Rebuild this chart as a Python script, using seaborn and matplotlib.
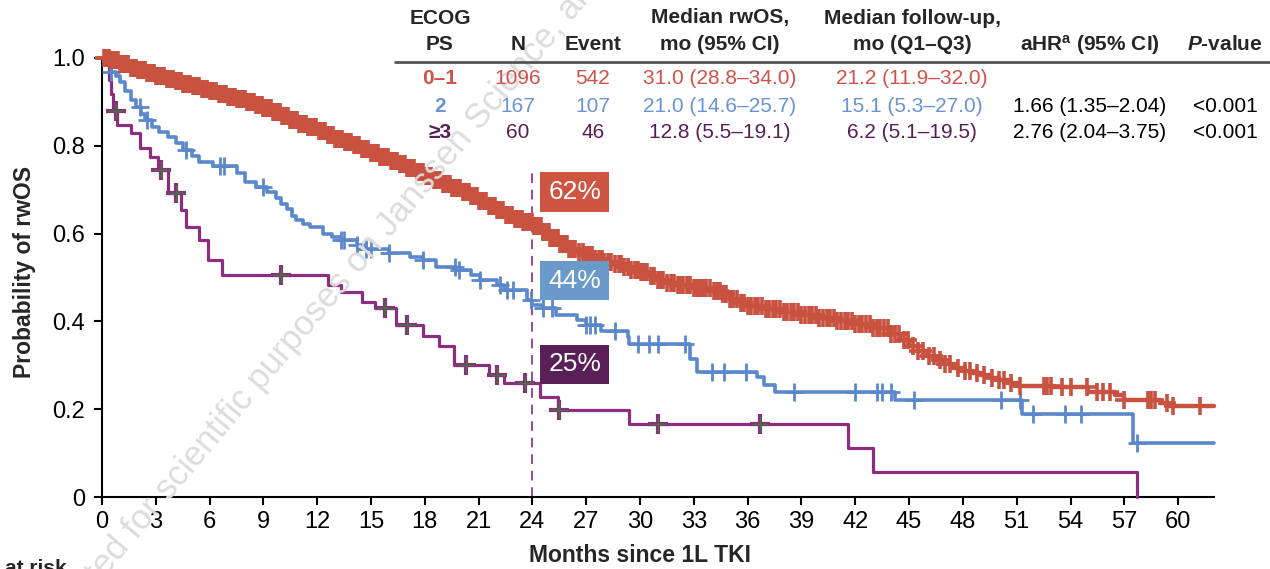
import numpy as np
import matplotlib
matplotlib.use("Agg")
import matplotlib.pyplot as plt
import seaborn as sns

# ---- data ----
# KM step curves: time of each step (months) and survival after it
red_t = [0, 0.5, 1.0, 1.5, 2.0, 2.5, 3.0, 3.5, 4.0, 4.5, 5.0, 5.5, 6.0, 6.5, 7.0, 7.5, 8.0, 8.5,
         9.0, 9.5, 10.0, 10.5, 11.0, 11.5, 12.0, 12.5, 13.0, 13.5, 14.0, 14.5, 15.0, 15.5, 16.0,
         16.5, 17.0, 17.5, 18.0, 18.5, 19.0, 19.5, 20.0, 20.5, 21.0, 21.5, 22.0, 22.5, 23.0, 23.5,
         24.0, 24.5, 25.0, 25.5, 26.0, 26.5, 27.0, 27.5, 28.0, 28.5, 29.0, 29.5, 30.0, 30.5, 31.0,
         31.5, 32.0, 33.0, 34.0, 34.5, 35.0, 35.5, 36.0, 37.0, 38.0, 39.0, 40.0, 41.0, 42.0, 43.0,
         44.0, 44.5, 45.0, 45.5, 46.0, 46.5, 47.0, 47.5, 48.0, 48.5, 49.0, 49.5, 50.0, 50.5, 51.0,
         53.0, 55.0, 56.5, 57.0, 59.0, 59.5, 62.0]
red_s = [1.0, 0.995, 0.986, 0.978, 0.972, 0.965, 0.958, 0.952, 0.947, 0.941, 0.936, 0.930, 0.924,
         0.918, 0.912, 0.906, 0.900, 0.894, 0.886, 0.877, 0.868, 0.858, 0.850, 0.843, 0.834, 0.825,
         0.816, 0.809, 0.801, 0.793, 0.784, 0.775, 0.766, 0.758, 0.750, 0.741, 0.732, 0.722, 0.713,
         0.705, 0.695, 0.686, 0.675, 0.664, 0.653, 0.643, 0.634, 0.626, 0.618, 0.604, 0.590, 0.577,
         0.566, 0.558, 0.551, 0.543, 0.536, 0.530, 0.524, 0.518, 0.512, 0.504, 0.495, 0.487, 0.482,
         0.476, 0.469, 0.462, 0.452, 0.442, 0.434, 0.428, 0.421, 0.414, 0.408, 0.400, 0.393, 0.384,
         0.372, 0.358, 0.345, 0.332, 0.322, 0.312, 0.302, 0.294, 0.288, 0.283, 0.278, 0.272, 0.266,
         0.259, 0.252, 0.250, 0.239, 0.232, 0.222, 0.215, 0.207, 0.207]
red_cens = [0.1, 0.2, 0.3, 0.4, 0.5, 0.6, 0.7, 0.8, 0.9, 1.0, 1.1, 1.2, 1.3, 1.45, 1.6, 1.7, 1.8,
            1.9, 2.0, 2.15, 2.3, 2.4, 2.5, 2.65, 2.8, 2.9, 3.0, 3.15, 3.3, 3.45, 3.6, 3.7, 3.8,
            3.95, 4.1, 4.25, 4.4, 4.5, 4.6, 4.75, 4.9, 5.05, 5.2, 5.3, 5.4, 5.55, 5.7, 5.85, 6.0,
            6.1, 6.2, 6.35, 6.5, 6.65, 6.8, 6.9, 7.0, 7.15, 7.3, 7.4, 7.5, 7.65, 7.8, 7.95, 8.1,
            8.2, 8.3, 8.45, 8.6, 8.75, 8.9, 9.0, 9.1, 9.25, 9.4, 9.55, 9.7, 9.8, 9.9, 10.05, 10.2,
            10.35, 10.5, 10.6, 10.7, 10.85, 11.0, 11.15, 11.3, 11.4, 11.5, 11.65, 11.8, 11.95,
            12.1, 12.2, 12.3, 12.45, 12.6, 12.75, 12.9, 13.0, 13.1, 13.25, 13.4, 13.55, 13.7,
            13.8, 13.9, 14.05, 14.2, 14.35, 14.5, 14.6, 14.7, 14.85, 15.0, 15.15, 15.3, 15.4,
            15.5, 15.65, 15.8, 15.95, 16.1, 16.2, 16.3, 16.45, 16.6, 16.75, 16.9, 17.0, 17.1,
            17.25, 17.4, 17.55, 17.7, 17.8, 17.9, 18.05, 18.2, 18.35, 18.5, 18.6, 18.7, 18.85,
            19.0, 19.15, 19.3, 19.4, 19.5, 19.65, 19.8, 19.95, 20.1, 20.2, 20.3, 20.45, 20.6,
            20.75, 20.9, 21.0, 21.1, 21.25, 21.4, 21.55, 21.7, 21.8, 21.9, 22.05, 22.2, 22.35,
            22.5, 22.6, 22.7, 22.85, 23.0, 23.15, 23.3, 23.4, 23.5, 23.65, 23.8, 23.95, 24.1,
            24.2, 24.3, 24.45, 24.6, 24.75, 24.9, 25.0, 25.1, 25.25, 25.4, 25.55, 25.7, 25.8,
            25.9, 26.05, 26.2, 26.4, 26.6, 26.8, 27.0, 27.15, 27.3, 27.5, 27.7, 27.85, 28.0, 28.2,
            28.4, 28.6, 28.8, 28.95, 29.1, 29.3, 29.5, 29.7, 29.9, 30.05, 30.2, 30.4, 30.6, 30.8,
            31.0, 31.15, 31.3, 31.5, 31.7, 31.9, 32.1, 32.25, 32.4, 32.6, 32.8, 33.0, 33.2, 33.35,
            33.5, 33.7, 33.9, 34.1, 34.3, 34.45, 34.6, 34.8, 35.0, 35.2, 35.4, 35.6, 35.8, 36.0,
            36.2, 36.4, 36.6, 36.8, 37.0, 37.2, 37.4, 37.6, 37.8, 38.0, 38.2, 38.4, 38.6, 38.8,
            39.0, 39.2, 39.4, 39.6, 39.8, 40.0, 40.2, 40.4, 40.6, 40.8, 41.0, 41.2, 41.4, 41.6,
            41.8, 42.0, 42.2, 42.4, 42.6, 42.8, 43.0, 43.2, 43.4, 43.6, 43.8, 44.0, 44.2, 44.45,
            44.7, 44.95, 45.2, 45.5, 45.8, 46.1, 46.4, 46.7, 47.0, 47.3, 47.7, 48.1, 48.4, 48.8,
            49.2, 49.6, 50.0, 50.3, 50.7, 51.2, 52.5, 52.7, 52.9, 53.5, 54.0, 54.9, 55.5, 55.8,
            56.2, 57.0, 58.3, 58.5, 58.7, 59.4, 59.7, 61.2]

blue_t = [0, 0.3, 0.5, 0.8, 1.0, 1.3, 1.6, 1.9, 2.2, 2.4, 2.8, 3.2, 3.7, 4.1, 4.5, 5.0, 5.4, 6.2,
          7.5, 8.0, 8.6, 9.2, 9.7, 10.0, 10.3, 10.6, 10.8, 11.2, 11.6, 12.3, 12.8, 13.3, 14.2, 14.7,
          16.0, 17.2, 17.9, 18.6, 19.8, 20.6, 21.1, 22.0, 22.4, 23.7, 24.0, 24.6, 25.3, 26.5, 27.0,
          27.8, 29.3, 29.4, 32.8, 33.2, 36.5, 36.9, 37.5, 44.2, 51.3, 57.5, 62.0]
blue_s = [1.0, 0.985, 0.969, 0.958, 0.945, 0.925, 0.905, 0.889, 0.872, 0.858, 0.843, 0.832, 0.821,
          0.806, 0.790, 0.777, 0.764, 0.754, 0.737, 0.718, 0.706, 0.694, 0.682, 0.668, 0.655,
          0.640, 0.631, 0.623, 0.616, 0.600, 0.592, 0.585, 0.575, 0.566, 0.555, 0.547, 0.540,
          0.525, 0.517, 0.505, 0.494, 0.482, 0.472, 0.449, 0.437, 0.430, 0.415, 0.403, 0.392,
          0.377, 0.365, 0.348, 0.315, 0.285, 0.274, 0.255, 0.240, 0.221, 0.189, 0.123, 0.123]
blue_cens = [0.5, 2.1, 2.5, 4.7, 6.6, 6.8, 9.0, 13.3, 13.5, 14.2, 14.7, 15.0, 16.0, 17.9, 19.7,
             19.9, 21.1, 22.2, 22.6, 22.9, 23.9, 24.6, 25.1, 27.0, 27.2, 27.5, 28.6, 29.9, 30.5,
             31.0, 32.5, 34.0, 34.7, 35.9, 38.6, 42.0, 43.2, 43.5, 44.0, 45.3, 50.1, 51.2, 51.9,
             53.7, 54.6, 57.7]

purple_t = [0, 0.3, 0.4, 0.5, 0.6, 0.85, 1.6, 2.1, 2.7, 3.1, 3.7, 4.4, 4.7, 5.4, 5.9, 6.7, 12.6,
            13.3, 14.5, 15.2, 16.4, 17.9, 18.8, 19.6, 21.6, 22.4, 24.4, 25.4, 29.4, 41.6, 43.0, 57.7]
purple_s = [1.0, 0.983, 0.95, 0.917, 0.88, 0.847, 0.829, 0.795, 0.775, 0.745, 0.692, 0.654, 0.616,
            0.585, 0.54, 0.505, 0.483, 0.468, 0.445, 0.430, 0.392, 0.367, 0.345, 0.30, 0.278,
            0.26, 0.228, 0.198, 0.166, 0.111, 0.057, 0.0]
purple_cens = [0.8, 3.3, 4.1, 10.0, 15.8, 17.0, 20.3, 22.0, 23.6, 25.5, 31.0, 36.7]

x_ticks = list(range(0, 61, 3))
y_ticks = [0, 0.2, 0.4, 0.6, 0.8, 1.0]
y_ticklabels = ["0", "0.2", "0.4", "0.6", "0.8", "1.0"]

pct_labels = ["62%", "44%", "25%"]
pct_y = [0.695, 0.493, 0.302]

table_header1 = ["ECOG", "", "", "Median rwOS,", "Median follow-up,", "", ""]
table_header2 = ["PS", "N", "Event", "mo (95% CI)", "mo (Q1\u2013Q3)",
                 r"aHR$^{\mathregular{a}}$ (95% CI)", r"$\it{P}$-value"]
table_rows = [
    ["0\u20131", "1096", "542", "31.0 (28.8\u201334.0)", "21.2 (11.9\u201332.0)", "", ""],
    ["2", "167", "107", "21.0 (14.6\u201325.7)", "15.1 (5.3\u201327.0)", "1.66 (1.35\u20132.04)", "<0.001"],
    ["\u22653", "60", "46", "12.8 (5.5\u201319.1)", "6.2 (5.1\u201319.5)", "2.76 (2.04\u20133.75)", "<0.001"],
]

RED = "#c9513f"
BLUE = "#5b88cc"
PURPLE = "#8b2e80"
text_colors = ["#d0524a", "#6a93d4", "#5a1e56"]
box_colors = ["#cd5542", "#6a9ac9", "#5b1f57"]


def km_at(times, surv, pts):
    idx = np.searchsorted(times, pts, side="right") - 1
    return np.asarray(surv)[idx]


sns.set_theme(style="ticks")
plt.rcParams['font.family'] = ['Liberation Sans', 'DejaVu Sans']
plt.rcParams['mathtext.fontset'] = 'custom'
plt.rcParams['mathtext.rm'] = 'Liberation Sans:bold'
plt.rcParams['mathtext.it'] = 'Liberation Sans:italic:bold'

W, H = 1270, 569
fig = plt.figure(figsize=(12.7, 5.69), dpi=100)
ax = fig.add_axes([102 / W, 72 / H, (1214 - 102) / W, (497 - 58) / H])

# watermark (behind everything)
fig.text(100 / W, 1 - 585 / H, "ted for scientific purposes on Janssen Science, and is",
         rotation=50, rotation_mode="anchor", ha="left", va="baseline", fontsize=25,
         color="#dcdcdc", zorder=0)

# curves
sns.lineplot(x=purple_t, y=purple_s, ax=ax, color=PURPLE, lw=2.3, drawstyle="steps-post",
             estimator=None, sort=False, clip_on=False, zorder=3)
sns.lineplot(x=blue_t, y=blue_s, ax=ax, color=BLUE, lw=2.6, drawstyle="steps-post",
             estimator=None, sort=False, clip_on=False, zorder=4)
sns.lineplot(x=red_t, y=red_s, ax=ax, color=RED, lw=3.2, drawstyle="steps-post",
             estimator=None, sort=False, clip_on=False, zorder=5)

# censor marks
ax.plot(red_cens, km_at(red_t, red_s, red_cens), ls="none", marker="+", ms=13, mew=2.6,
        color=RED, clip_on=False, zorder=6)
ax.plot(blue_cens, km_at(blue_t, blue_s, blue_cens), ls="none", marker="+", ms=13, mew=2.0,
        color=BLUE, clip_on=False, zorder=4)
pc = km_at(purple_t, purple_s, purple_cens)
ax.plot(purple_cens, pc, ls="none", marker="+", ms=15, mew=3.0, color=PURPLE, clip_on=False, zorder=3)
ax.plot(purple_cens, pc, ls="none", marker="+", ms=12, mew=1.0, color="#3f7a3a", clip_on=False, zorder=3)

# 24-month landmark
ax.plot([24, 24], [0, 0.74], color="#9b4a96", lw=1.4, dashes=(5, 3.5), zorder=2)
for lab, yy, bc in zip(pct_labels, pct_y, box_colors):
    ax.text(26.35, yy, lab, ha="center", va="center", color="white", fontsize=19, zorder=8,
            bbox=dict(boxstyle="square,pad=0.3", fc=bc, ec="none"))

ax.set_xlim(0, 62)
ax.set_ylim(0, 1.0)
ax.set_xticks(x_ticks)
ax.set_yticks(y_ticks)
ax.set_yticklabels(y_ticklabels)
ax.tick_params(axis="both", direction="out", length=6, width=1.5, labelsize=17, colors="black")
ax.tick_params(axis="y", pad=6)
ax.tick_params(axis="x", pad=4)
sns.despine(ax=ax)
for side in ["left", "bottom"]:
    ax.spines[side].set_linewidth(1.5)
    ax.spines[side].set_color("black")
ax.set_xlabel("")
ax.set_ylabel("")

fig.text(25 / W, 1 - 272 / H, "Probability of rwOS", rotation=90, ha="center", va="center",
         fontsize=16.5, fontweight="bold")
fig.text(640 / W, 1 - 556 / H, "Months since 1L TKI", ha="center", va="center",
         fontsize=16.5, fontweight="bold")
fig.text(5 / W, 1 - 559 / H, "at risk", ha="left", va="top", fontsize=15, fontweight="bold")

# summary table
col_x = [440, 518, 593, 720, 912, 1090, 1225]
for cx, h1, h2 in zip(col_x, table_header1, table_header2):
    if h1:
        fig.text(cx / W, 1 - 18 / H, h1, ha="center", va="center", fontsize=15,
                 fontweight="bold")
    fig.text(cx / W, 1 - 45 / H, h2, ha="center", va="center", fontsize=15,
             fontweight="bold")
fig.add_artist(plt.Line2D([395 / W, 1.0], [1 - 62 / H, 1 - 62 / H], color="#555555", lw=2))
row_y = [78, 106, 133]
for row, ry, tc in zip(table_rows, row_y, text_colors):
    for j, (cx, val) in enumerate(zip(col_x, row)):
        if not val:
            continue
        fig.text(cx / W, 1 - ry / H, val, ha="center", va="center", fontsize=15,
                 fontweight="bold" if j == 0 else "normal",
                 color=tc if j < 5 else "black")

fig.savefig("out.png", dpi=100)
